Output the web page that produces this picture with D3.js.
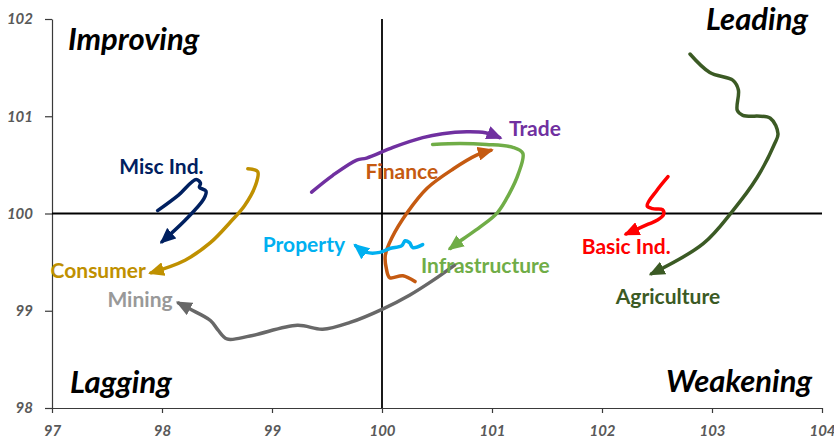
<!DOCTYPE html>
<html>
<head>
<meta charset="utf-8">
<script src="https://cdn.jsdelivr.net/npm/d3@7"></script>
<style>
  body { margin: 0; background: #fff; }
  svg text { font-family: Lato, "Open Sans", sans-serif; }
  .tick text { font-weight: 700; font-style: italic; font-size: 15px; fill: #595959; }
  .quad { font-weight: 700; font-style: italic; font-size: 31px; fill: #000; }
  .lbl { font-weight: 700; font-size: 21px; }
</style>
</head>
<body>
<svg id="chart" width="834" height="438"></svg>
<script>
// relative strength (x) vs momentum (y), oldest point first
const miscInd = [[97.96, 100.03], [98.15, 100.19], [98.31, 100.35], [98.35, 100.31], [98.34, 100.27], [98.40, 100.23], [98.38, 100.15], [98.21, 99.93], [98.00, 99.71]]
const consumer = [[98.78, 100.46], [98.87, 100.43], [98.85, 100.29], [98.75, 100.08], [98.62, 99.91], [98.44, 99.70], [98.21, 99.52], [97.90, 99.39]]
const mining = [[100.66, 99.47], [100.46, 99.31], [100.25, 99.16], [100.01, 99.02], [99.71, 98.88], [99.46, 98.81], [99.23, 98.85], [98.80, 98.74], [98.59, 98.71], [98.51, 98.80], [98.44, 98.90], [98.25, 99.02], [98.15, 99.08]]
const trade = [[99.36, 100.22], [99.55, 100.39], [99.77, 100.55], [99.86, 100.57], [100.10, 100.68], [100.37, 100.78], [100.55, 100.82], [100.77, 100.84], [100.94, 100.83], [101.07, 100.78]]
const finance = [[100.30, 99.30], [100.19, 99.36], [100.07, 99.34], [100.04, 99.43], [100.03, 99.57], [100.09, 99.75], [100.23, 100.01], [100.41, 100.26], [100.65, 100.46], [100.86, 100.60], [100.99, 100.65]]
const infrastructure = [[100.46, 100.71], [100.71, 100.72], [100.95, 100.71], [101.19, 100.68], [101.28, 100.62], [101.24, 100.41], [101.16, 100.21], [101.05, 100.01], [100.89, 99.86], [100.74, 99.74], [100.62, 99.64]]
const property = [[100.37, 99.68], [100.28, 99.65], [100.25, 99.70], [100.21, 99.72], [100.18, 99.67], [100.07, 99.64], [99.98, 99.60], [99.86, 99.60], [99.76, 99.67]]
const basicInd = [[102.60, 100.38], [102.50, 100.24], [102.41, 100.08], [102.46, 100.05], [102.55, 100.04], [102.56, 99.99], [102.50, 99.93], [102.42, 99.89], [102.22, 99.79]]
const agriculture = [[102.80, 101.64], [102.98, 101.45], [103.19, 101.37], [103.24, 101.27], [103.23, 101.06], [103.28, 101.01], [103.53, 100.98], [103.60, 100.82], [103.57, 100.72], [103.41, 100.37], [103.19, 100.03], [102.92, 99.69], [102.45, 99.38]]

const sectorNames = ['Misc Ind.', 'Consumer', 'Mining', 'Trade', 'Finance', 'Infrastructure', 'Property', 'Basic Ind.', 'Agriculture']
const sectorTrails = [miscInd, consumer, mining, trade, finance, infrastructure, property, basicInd, agriculture]

const xTicks = [97, 98, 99, 100, 101, 102, 103, 104]
const yTicks = [98, 99, 100, 101, 102]
const quadrants = ['Improving', 'Leading', 'Lagging', 'Weakening']

// styling and label placement (data coords)
const lineColors = ['#002060', '#bf9000', '#686868', '#7030a0', '#c55a11', '#70ad47', '#00b0f0', '#ff0000', '#3b5a24']
const textColors = ['#002060', '#bf9000', '#999999', '#7030a0', '#c55a11', '#70ad47', '#00b0f0', '#ff0000', '#3b5a24']
const labelAt = [[97.995, 100.49], [97.42, 99.42], [97.80, 99.13], [101.39, 100.88], [100.18, 100.44], [100.94, 99.48], [99.29, 99.69], [102.22, 99.67], [102.60, 99.16]]

let svg = d3.select('#chart')
let x = d3.scaleLinear().domain([97, 104]).range([52, 822])
let y = d3.scaleLinear().domain([98, 102]).range([408, 19])
let fmt = d3.format('d')

// axes
svg.append('g')
  .attr('transform', `translate(0,${y(98)})`)
  .call(d3.axisBottom(x).tickValues(xTicks).tickFormat(fmt).tickSize(5).tickPadding(12).tickSizeOuter(0))
svg.append('g')
  .attr('transform', `translate(${x(97)},0)`)
  .call(d3.axisLeft(y).tickValues(yTicks).tickFormat(fmt).tickSize(7).tickPadding(12).tickSizeOuter(0))
svg.selectAll('.domain, .tick line').attr('stroke', '#3a3a3a').attr('stroke-width', 1.2)

// centre cross
svg.append('line')
  .attr('x1', x(97)).attr('x2', x(104))
  .attr('y1', y(100)).attr('y2', y(100))
  .attr('stroke', '#000').attr('stroke-width', 1.8)
svg.append('line')
  .attr('x1', x(100)).attr('x2', x(100))
  .attr('y1', y(102)).attr('y2', y(98))
  .attr('stroke', '#000').attr('stroke-width', 1.8)

// quadrant names
let qx = [x(97) + 16, x(104) - 14, x(97) + 18, x(104) - 10]
let qy = [50, 30, 393, 392]
svg.selectAll('.quad')
  .data(quadrants)
  .enter()
  .append('text')
  .attr('class', 'quad')
  .attr('x', (d, i) => qx[i])
  .attr('y', (d, i) => qy[i])
  .attr('text-anchor', (d, i) => i % 2 ? 'end' : 'start')
  .text(d => d)

// arrow heads
let defs = svg.append('defs')
lineColors.forEach((c, i) => {
  defs.append('marker')
    .attr('id', 'arr' + i)
    .attr('viewBox', '0 0 16 14')
    .attr('markerUnits', 'userSpaceOnUse')
    .attr('markerWidth', 16)
    .attr('markerHeight', 14)
    .attr('refX', 13)
    .attr('refY', 7)
    .attr('orient', 'auto')
    .append('path')
    .attr('d', 'M0,0 L16,7 L0,14 Z')
    .attr('fill', c)
})

let line = d3.line()
  .x(d => x(d[0]))
  .y(d => y(d[1]))
  .curve(d3.curveCatmullRom.alpha(0.5))

svg.append('g')
  .selectAll('path')
  .data(sectorTrails)
  .enter()
  .append('path')
  .attr('d', line)
  .attr('fill', 'none')
  .attr('stroke', (d, i) => lineColors[i])
  .attr('stroke-width', 3.5)
  .attr('stroke-linejoin', 'round')
  .attr('stroke-linecap', 'round')
  .attr('marker-end', (d, i) => `url(#arr${i})`)

svg.append('g')
  .selectAll('text')
  .data(sectorNames)
  .enter()
  .append('text')
  .attr('class', 'lbl')
  .attr('x', (d, i) => x(labelAt[i][0]))
  .attr('y', (d, i) => y(labelAt[i][1]))
  .attr('text-anchor', 'middle')
  .attr('dominant-baseline', 'central')
  .attr('fill', (d, i) => textColors[i])
  .text(d => d)
</script>
</body>
</html>
